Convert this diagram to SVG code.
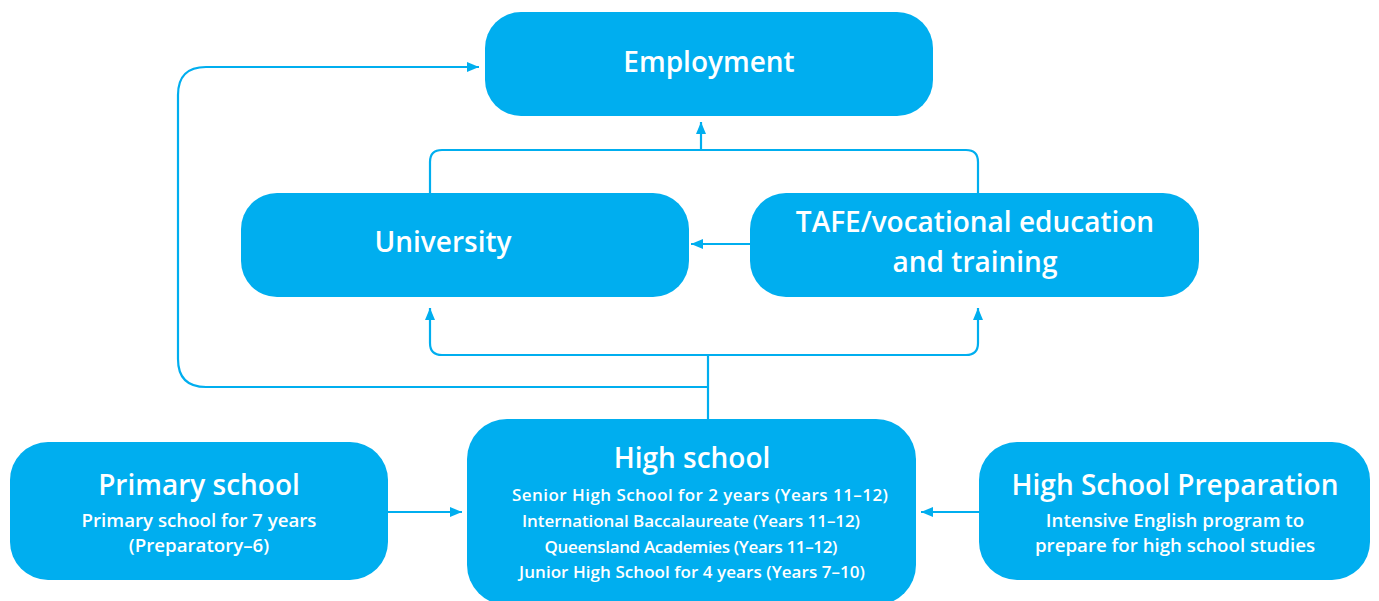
<svg xmlns="http://www.w3.org/2000/svg" width="1379" height="601" viewBox="0 0 1379 601">
<style>
.box{fill:#00aeef}
.t{fill:#fff;font-family:"Open Sans","Noto Sans",sans-serif;font-weight:600;text-anchor:middle}
.big{font-size:28px}
.sm{font-size:18.7px}
.hs{font-size:17px}
.c{fill:none;stroke:#00aeef;stroke-width:2.2}
</style>
<defs>
<marker id="ah" viewBox="0 0 12 10" refX="12" refY="5" markerWidth="12" markerHeight="10" markerUnits="userSpaceOnUse" orient="auto">
<path d="M0,0 L12,5 L0,10 Z" fill="#00aeef"/>
</marker>
</defs>
<rect width="1379" height="601" fill="#fff"/>
<g id="connectors">
<path class="c" d="M388,512 H462" marker-end="url(#ah)"/>
<path class="c" d="M979,512 H921" marker-end="url(#ah)"/>
<path class="c" d="M750,244 H691" marker-end="url(#ah)"/>
<path class="c" d="M708,419 V355"/>
<path class="c" d="M708,355 H442 Q430,355 430,343 V308" marker-end="url(#ah)"/>
<path class="c" d="M708,355 H966 Q978,355 978,343 V308" marker-end="url(#ah)"/>
<path class="c" d="M708,387 H206 Q178,387 178,359 V95 Q178,67 206,67 H479" marker-end="url(#ah)"/>
<path class="c" d="M430,193 V162 Q430,150 442,150 H966 Q978,150 978,162 V193"/>
<path class="c" d="M701,150 V122" marker-end="url(#ah)"/>
</g>
<g id="employment">
<rect class="box" x="485" y="12" width="448" height="104" rx="36"/>
<text class="t big" x="709" y="72">Employment</text>
</g>
<g id="university">
<rect class="box" x="241" y="193" width="448" height="104" rx="36"/>
<text class="t big" x="443" y="252">University</text>
</g>
<g id="tafe">
<rect class="box" x="750" y="193" width="449" height="104" rx="36"/>
<text class="t big" x="975" y="232">TAFE/vocational education</text>
<text class="t big" x="975" y="272">and training</text>
</g>
<g id="primary">
<rect class="box" x="10" y="442" width="378" height="138" rx="38"/>
<text class="t big" x="199" y="495">Primary school</text>
<text class="t sm" x="199" y="527">Primary school for 7 years</text>
<text class="t sm" x="199" y="552">(Preparatory–6)</text>
</g>
<g id="highschool">
<rect class="box" x="467" y="419" width="449" height="186" rx="40"/>
<text class="t big" x="692" y="468">High school</text>
<text class="t hs" x="700" y="501" textLength="376">Senior High School for 2 years (Years 11–12)</text>
<text class="t hs" x="691" y="527" textLength="338">International Baccalaureate (Years 11–12)</text>
<text class="t hs" x="691" y="553" textLength="293">Queensland Academies (Years 11–12)</text>
<text class="t hs" x="692" y="578" textLength="346">Junior High School for 4 years (Years 7–10)</text>
</g>
<g id="hsprep">
<rect class="box" x="979" y="442" width="391" height="138" rx="38"/>
<text class="t big" x="1175" y="495">High School Preparation</text>
<text class="t sm" x="1175" y="527">Intensive English program to</text>
<text class="t sm" x="1175" y="552">prepare for high school studies</text>
</g>
</svg>
